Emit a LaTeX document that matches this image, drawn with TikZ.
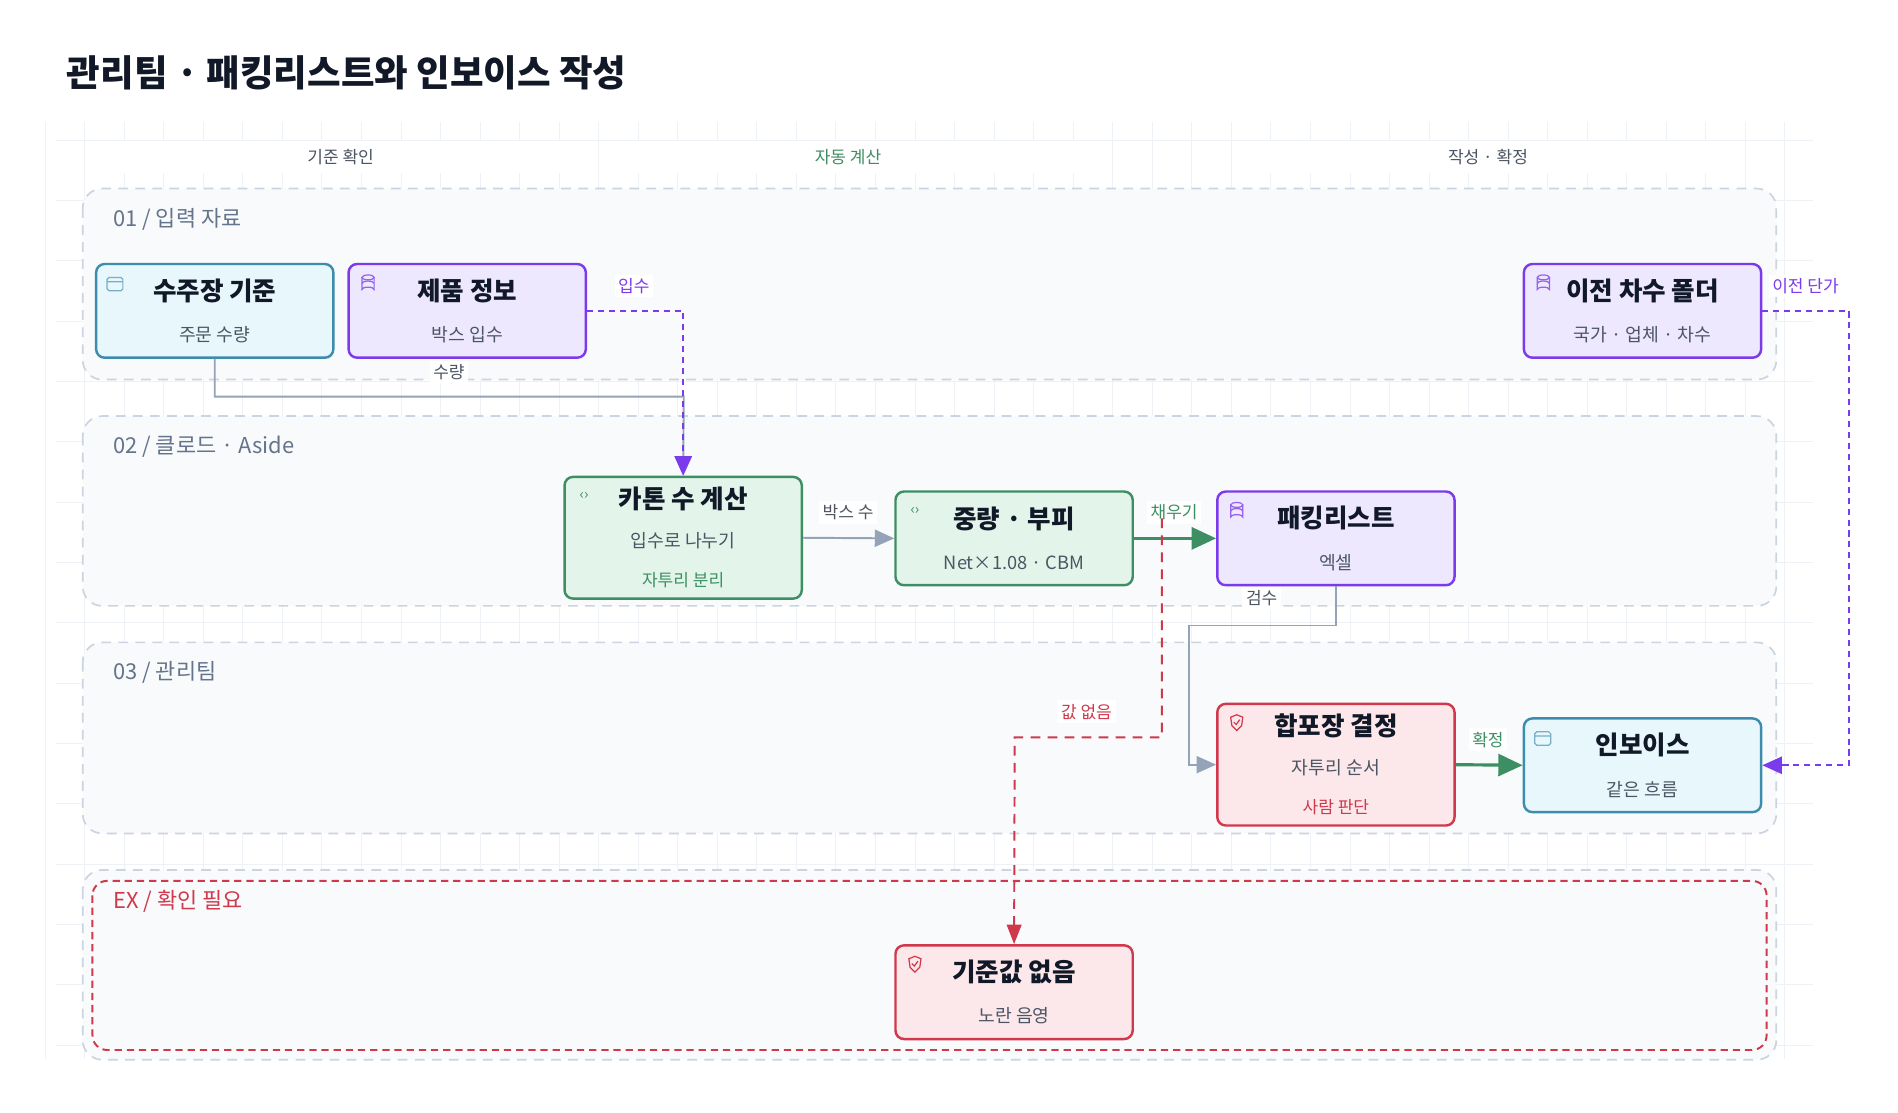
\documentclass[tikz,border=0pt]{standalone}
\usepackage{fontspec}
\setmainfont{Noto Sans CJK KR}
\usetikzlibrary{arrows.meta,positioning}

\definecolor{inkc}{HTML}{111827}
\definecolor{subc}{HTML}{4B5563}
\definecolor{lanec}{HTML}{CBD5E1}
\definecolor{lanefill}{HTML}{F8FAFC}
\definecolor{gridc}{HTML}{EEF1F5}
\definecolor{graylc}{HTML}{64748B}
\definecolor{linkc}{HTML}{94A3B8}
\definecolor{cyanf}{HTML}{E8F7FC}
\definecolor{cyand}{HTML}{3E8CAD}
\definecolor{purf}{HTML}{EDE8FD}
\definecolor{purd}{HTML}{7C3AED}
\definecolor{grnf}{HTML}{E3F5EA}
\definecolor{grnd}{HTML}{3D8F63}
\definecolor{redf}{HTML}{FCE8EA}
\definecolor{redd}{HTML}{D0384C}

\tikzset{
  lane/.style={draw=lanec,fill=lanefill,dashed,line width=0.7pt,rounded corners=8pt,dash pattern=on 4pt off 3pt},
  lanetxt/.style={anchor=west,text=graylc,font=\fontsize{9}{11}\selectfont},
  head/.style={fill=white,font=\fontsize{7}{9}\selectfont,text=subc},
  box/.style={minimum width=97.5pt,minimum height=38.5pt,rounded corners=3.5pt,line width=1pt,align=center,inner sep=0pt},
  cyanbox/.style={box,draw=cyand,fill=cyanf},
  purbox/.style={box,draw=purd,fill=purf},
  grnbox/.style={box,draw=grnd,fill=grnf},
  redbox/.style={box,draw=redd,fill=redf},
  lbl/.style={fill=white,inner sep=1.5pt,font=\fontsize{7}{9}\selectfont},
  link/.style={draw=linkc,line width=0.8pt,-{Triangle[length=8pt,width=7pt]}},
  okay/.style={draw=grnd,line width=1.3pt,-{Triangle[length=10pt,width=9pt]}},
  ref/.style={draw=purd,line width=0.9pt,dash pattern=on 2.5pt off 2pt,-{Triangle[length=8pt,width=7pt]}},
  miss/.style={draw=redd,line width=0.8pt,dash pattern=on 4pt off 3pt,-{Triangle[length=8pt,width=6pt]}},
}
\newcommand{\ttl}[1]{{\bfseries\fontsize{10.5}{12}\selectfont\color{inkc}#1}}
\newcommand{\sbt}[1]{{\fontsize{7.5}{9}\selectfont\color{subc}#1}}

\begin{document}
\begin{tikzpicture}[x=0.5pt,y=-0.5pt]

\useasboundingbox[fill=white] (0,0) rectangle (1560,914);

% grille de fond

\foreach \gx in {37,69.5,...,1490} \draw[gridc,line width=0.3pt] (\gx,100) -- (\gx,870);
\foreach \gy in {115,164.6,...,870} \draw[gridc,line width=0.3pt] (46,\gy) -- (1490,\gy);

% titre et colonnes

\node[anchor=west,font=\bfseries\fontsize{15}{18}\selectfont,text=inkc] (titre) at (48,60) {관리팀 · 패킹리스트와 인보이스 작성};

\node[head,minimum width=190pt] (col_a) at (280,129) {기준 확인};
\node[head,minimum width=200pt,text=grnd] (col_b) at (697,129) {자동 계산};
\node[head,minimum width=180pt] (col_c) at (1223,129) {작성 · 확정};

% couloirs

\draw[lane] (68,155) rectangle (1460,312);
\draw[lane] (68,342) rectangle (1460,498);
\draw[lane] (68,528) rectangle (1460,685);
\draw[lane] (68,715) rectangle (1460,871);
\draw[draw=redd,dash pattern=on 3pt off 2pt,line width=0.8pt,rounded corners=6pt] (76,724) rectangle (1452,863);

\node[lanetxt] (l_un) at (86,180) {01 / 입력 자료};
\node[lanetxt] (l_deux) at (86,367) {02 / 클로드 · Aside};
\node[lanetxt] (l_trois) at (86,553) {03 / 관리팀};
\node[lanetxt,text=redd] (l_ex) at (86,741) {EX / 확인 필요};

% boites

\node[cyanbox] (suju) at (176.5,255.5) {\ttl{수주장 기준}\\[5pt]\sbt{주문 수량}};
\node[purbox] (jepum) at (384,255.5) {\ttl{제품 정보}\\[5pt]\sbt{박스 입수}};
\node[purbox] (ijeon) at (1350,255.5) {\ttl{이전 차수 폴더}\\[5pt]\sbt{국가 · 업체 · 차수}};
\node[grnbox,minimum height=50pt] (carton) at (561.5,442) {\ttl{카톤 수 계산}\\[4pt]\sbt{입수로 나누기}\\[4pt]{\fontsize{7}{9}\selectfont\color{grnd}자투리 분리}};
\node[grnbox] (jungryang) at (833.5,442.5) {\ttl{중량 · 부피}\\[5pt]\sbt{Net×1.08 · CBM}};
\node[purbox] (packing) at (1098,442.5) {\ttl{패킹리스트}\\[5pt]\sbt{엑셀}};
\node[redbox,minimum height=50pt] (hap) at (1098,628.5) {\ttl{합포장 결정}\\[4pt]\sbt{자투리 순서}\\[4pt]{\fontsize{7}{9}\selectfont\color{redd}사람 판단}};
\node[cyanbox] (invoice) at (1350,629) {\ttl{인보이스}\\[5pt]\sbt{같은 흐름}};
\node[redbox] (gijun) at (833.5,815.5) {\ttl{기준값 없음}\\[5pt]\sbt{노란 음영}};

% petites icones

\foreach \n in {suju,invoice}
  \draw[cyand!70,line width=0.5pt,rounded corners=0.8pt] ([shift={(10,12)}]\n.north west) rectangle ([shift={(23,23)}]\n.north west) ([shift={(10,15.5)}]\n.north west) -- ([shift={(23,15.5)}]\n.north west);
\foreach \n in {jepum,ijeon,packing} {
  \draw[purd!80,line width=0.5pt] ([shift={(12,12)}]\n.north west) -- ([shift={(12,22)}]\n.north west) arc[start angle=180,end angle=360,x radius=5,y radius=2] -- ([shift={(22,12)}]\n.north west);
  \draw[purd!80,line width=0.5pt] ([shift={(17,12)}]\n.north west) ellipse[x radius=5,y radius=2];
  \draw[purd!80,line width=0.5pt] ([shift={(12,17)}]\n.north west) arc[start angle=180,end angle=360,x radius=5,y radius=2];
}
\foreach \n in {carton,jungryang}
  \node[text=grnd,font=\fontsize{6}{7}\selectfont,inner sep=0pt] at ([shift={(17,17)}]\n.north west) {‹›};
\foreach \n in {hap,gijun}
  \draw[redd,line width=0.5pt] ([shift={(12,12)}]\n.north west) -- ([shift={(17,10)}]\n.north west) -- ([shift={(22,12)}]\n.north west) -- ([shift={(21,19)}]\n.north west) -- ([shift={(17,23)}]\n.north west) -- ([shift={(13,19)}]\n.north west) -- cycle ([shift={(14.5,16)}]\n.north west) -- ([shift={(16.5,18)}]\n.north west) -- ([shift={(19.5,14)}]\n.north west);

% liens

\coordinate (coude_a) at (562,326);
\coordinate (fuite) at (955,442);
\coordinate (coude_b) at (977,514);

\draw[link] (suju.south) |- (coude_a) -- (carton.north);
\node[lbl,text=subc] (q_suryang) at (369,306) {수량};

\draw[ref] (jepum.east) -| (carton.north);
\node[lbl,text=purd] (q_ipsu) at (521,235) {입수};

\draw[link] (carton.east) -- (jungryang.west);
\node[lbl,text=subc] (q_box) at (697,421) {박스 수};

\draw[okay] (jungryang.east) -- (packing.west);
\node[lbl,text=grnd] (q_fill) at (965,421) {채우기};

\draw[link,line width=0.7pt] (packing.south) |- (coude_b) |- (hap.west);
\node[lbl,text=subc] (q_check) at (1037,492) {검수};

\draw[miss] ([yshift=8]fuite) |- (834,606) -- (gijun.north);
\node[lbl,text=redd] (q_none) at (893,585) {값 없음};

\draw[okay] (hap.east) -- (invoice.west);
\node[lbl,text=grnd] (q_ok) at (1223,608) {확정};

\draw[ref] (ijeon.east) -- (1520,255.5) |- (invoice.east);
\node[lbl,text=purd] (q_price) at (1484,235) {이전 단가};

\end{tikzpicture}
\end{document}
